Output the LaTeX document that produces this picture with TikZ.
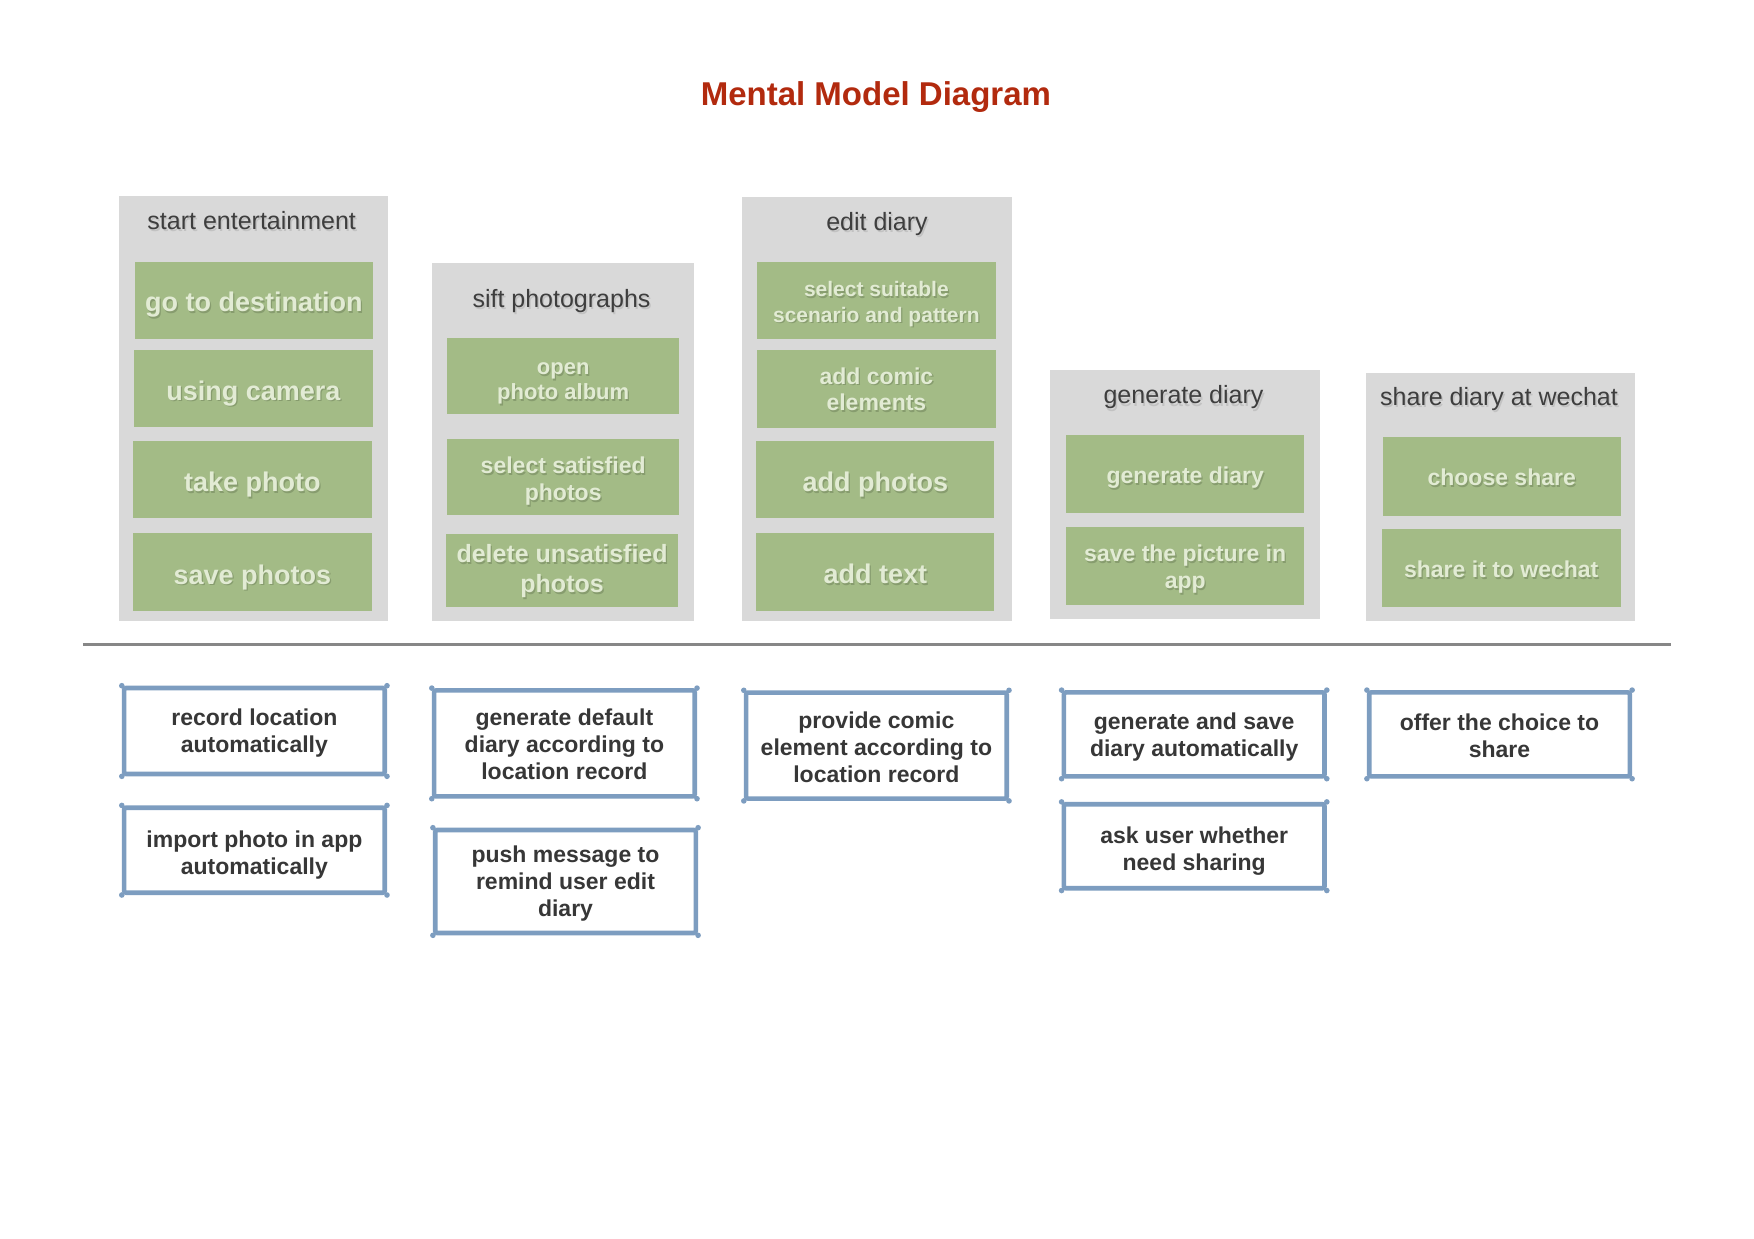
\documentclass[tikz,border=0pt]{standalone}
\usepackage{fontspec}
\setmainfont{Liberation Sans}
\definecolor{titlered}{RGB}{178,42,14}
\definecolor{panelgray}{RGB}{217,217,217}
\definecolor{boxgreen}{RGB}{163,187,134}
\definecolor{gtextc}{RGB}{226,235,212}
\definecolor{gshadc}{RGB}{112,132,92}
\definecolor{ptextc}{RGB}{62,62,62}
\definecolor{pshadc}{RGB}{185,185,185}
\definecolor{ublue}{RGB}{125,157,192}
\definecolor{utextc}{RGB}{55,55,55}
\definecolor{linegray}{RGB}{135,135,135}
\tikzset{
  panel/.style={fill=panelgray, inner sep=0pt},
  gbox/.style={fill=boxgreen, inner sep=0pt},
  gtext/.style={text=gtextc, align=center, inner sep=0pt},
  gshadow/.style={text=gshadc, text opacity=0.55, align=center, inner sep=0pt},
  ptext/.style={text=ptextc, inner sep=0pt, font=\fontsize{25}{30}\selectfont},
  pshadow/.style={text=pshadc, text opacity=0.7, inner sep=0pt, font=\fontsize{25}{30}\selectfont},
  ubox/.style={draw=ublue, line width=4.6pt, fill=white, rounded corners=2pt, inner sep=0pt},
  utext/.style={align=center, text=utextc, inner sep=0pt, font=\bfseries\fontsize{23}{27}\selectfont},
  sepline/.style={draw=linegray, line width=3.5pt},
  titletext/.style={text=titlered, font=\bfseries\fontsize{33}{38}\selectfont, inner sep=0pt}
}
\newcommand\greenbox[9]{%
  \node[gbox, minimum width=#4pt, minimum height=#5pt] (#1) at (#2,#3) {};
  \node[gshadow, font=\bfseries\fontsize{#6}{#7}\selectfont] (#1s) at ([xshift=1.3pt,yshift=-1.8pt-#9pt]#1.center) {#8};
  \node[gtext, font=\bfseries\fontsize{#6}{#7}\selectfont] (#1t) at ([yshift=-#9pt]#1.center) {#8};
}
\newcommand\paneltitle[4]{%
  \node[pshadow] (#1s) at (#2+1.5,#3+2.2) {#4};
  \node[ptext] (#1) at (#2,#3) {#4};
}
\newcommand\userbox[7]{%
  \node[ubox, minimum width=#4pt, minimum height=#5pt] (#1) at (#2,#3) {};
  \foreach \c in {north west,north east,south west,south east}{\fill[ublue] (#1.\c) circle (2.8);}
  \node[utext] (#1t) at ([yshift=-#6pt]#1.center) {#7};
}
\begin{document}
\begin{tikzpicture}[x=1pt,y=-1pt]
\useasboundingbox[fill=white] (0,0) rectangle (1754,1239);

\node[titletext] (title) at (875.9,97.5) {Mental Model Diagram};

% panels
\node[panel, minimum width=269.6pt, minimum height=425pt] (p1) at (253.4,408.3) {};
\node[panel, minimum width=261.7pt, minimum height=357.9pt] (p2) at (562.65,441.85) {};
\node[panel, minimum width=270.7pt, minimum height=423.9pt] (p3) at (876.95,408.85) {};
\node[panel, minimum width=269.6pt, minimum height=248.3pt] (p4) at (1185.2,494.45) {};
\node[panel, minimum width=269.6pt, minimum height=248.3pt] (p5) at (1500.6,496.65) {};

\paneltitle{t1}{251.7}{220.4}{start entertainment}
\paneltitle{t2}{561.5}{300.8}{sift photographs}
\paneltitle{t3}{877}{223.6}{edit diary}
\paneltitle{t4}{1183.5}{397.5}{generate diary}
\paneltitle{t5}{1499}{398.6}{share diary at wechat}

% green boxes
\greenbox{g11}{253.9}{300.4}{238.5}{77.5}{27}{31}{go to destination}{4.5}
\greenbox{g12}{253.4}{388.7}{238.5}{77.5}{27}{31}{using camera}{4.5}
\greenbox{g13}{252.3}{479.3}{238.5}{77.5}{27}{31}{take photo}{5.5}
\greenbox{g14}{252.3}{571.6}{238.5}{78}{27}{31}{save photos}{5.5}

\greenbox{g21}{563.2}{375.9}{231.6}{76.1}{22}{25.7}{open\\photo album}{7.5}
\greenbox{g22}{563.2}{476.6}{231.6}{76.1}{23}{27.5}{select satisfied\\photos}{4.5}
\greenbox{g23}{562.1}{570.5}{231.6}{73.8}{25}{30}{delete unsatisfied\\photos}{0.5}

\greenbox{g31}{876.4}{300.4}{238.3}{77.5}{21}{25.5}{select suitable\\scenario and pattern}{3.5}
\greenbox{g32}{876.4}{389.2}{238.3}{78.3}{23}{26.8}{add comic\\elements}{0}
\greenbox{g33}{875.3}{479.3}{238.3}{77.5}{27}{31}{add photos}{5.5}
\greenbox{g34}{875.3}{571.6}{238.3}{78}{27}{31}{add text}{2.5}

\greenbox{g41}{1185.2}{474.3}{238.3}{78.3}{23}{27}{generate diary}{3.5}
\greenbox{g42}{1185.2}{566.1}{238.3}{78.3}{23}{27}{save the picture in\\app}{3}

\greenbox{g51}{1501.7}{476.6}{238.3}{78.3}{23}{27}{choose share}{1}
\greenbox{g52}{1501.2}{568.3}{239.4}{78.3}{23}{27}{share it to wechat}{1}

% separator
\coordinate (l1) at (82.8,644.3);
\coordinate (l2) at (1671.2,644.3);
\draw[sepline] (l1) -- (l2);

% user-support boxes
\userbox{b1}{254.4}{731}{260.6}{86}{2}{record location\\automatically}
\userbox{b2}{254.4}{850.2}{260.6}{85}{4.5}{import photo in app\\automatically}
\userbox{b3}{564.4}{743.4}{260.6}{106}{1}{generate default\\diary according to\\location record}
\userbox{b4}{565.5}{881.5}{260.6}{103}{2}{push message to\\remind user edit\\diary}
\userbox{b5}{876.4}{745.6}{260.6}{106}{2}{provide comic\\element according to\\location record}
\userbox{b6}{1194.2}{734.4}{260.6}{84}{3}{generate and save\\diary automatically}
\userbox{b7}{1194.2}{846.2}{260.6}{84}{4.5}{ask user whether\\need sharing}
\userbox{b8}{1499.5}{734.4}{260.6}{84}{1}{offer the choice to\\share}
\end{tikzpicture}
\end{document}
